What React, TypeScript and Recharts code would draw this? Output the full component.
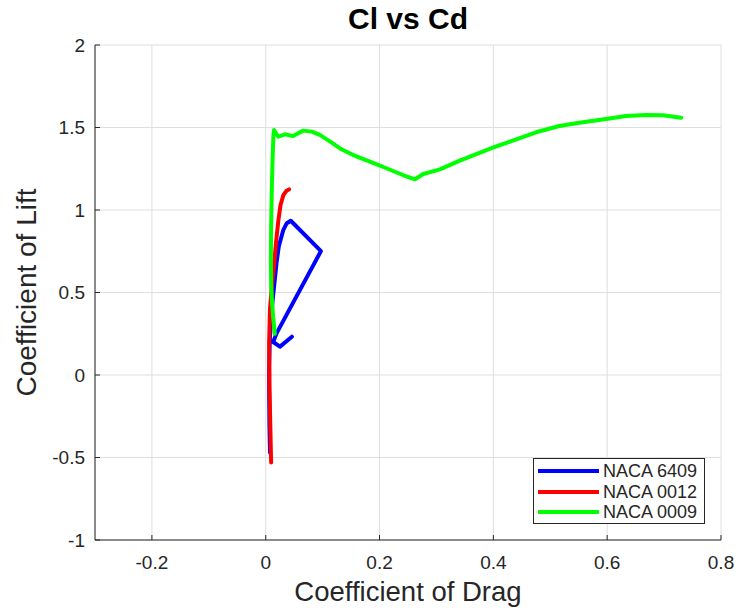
import React from 'react';
import { LineChart, Line, XAxis, YAxis, CartesianGrid, Legend } from 'recharts';

// ---- data ----
const naca6409Cd = [0.0075, 0.0065, 0.006, 0.006, 0.007, 0.009, 0.012, 0.016, 0.019, 0.023, 0.031, 0.037, 0.044, 0.097, 0.019, 0.013, 0.025, 0.046];
const naca6409Cl = [-0.47, -0.3, -0.1, 0.05, 0.2, 0.32, 0.45, 0.58, 0.68, 0.78, 0.88, 0.92, 0.935, 0.751, 0.252, 0.2, 0.172, 0.232];

const naca0012Cd = [0.0095, 0.008, 0.0065, 0.006, 0.0075, 0.011, 0.015, 0.018, 0.022, 0.026, 0.031, 0.036, 0.041];
const naca0012Cl = [-0.53, -0.3, -0.05, 0.2, 0.4, 0.55, 0.68, 0.8, 0.93, 1.03, 1.09, 1.115, 1.125];

const naca0009Cd = [0.016, 0.013, 0.011, 0.0095, 0.009, 0.0095, 0.0105, 0.012, 0.0135, 0.0146, 0.022, 0.034, 0.048, 0.066, 0.081, 0.095, 0.116, 0.133, 0.154, 0.183, 0.212, 0.241, 0.262, 0.277, 0.306, 0.341, 0.37, 0.399, 0.434, 0.475, 0.516, 0.551, 0.598, 0.633, 0.668, 0.698, 0.73];
const naca0009Cl = [0.25, 0.35, 0.45, 0.55, 0.7, 0.9, 1.1, 1.3, 1.45, 1.485, 1.444, 1.459, 1.448, 1.481, 1.475, 1.455, 1.408, 1.368, 1.333, 1.293, 1.253, 1.212, 1.186, 1.218, 1.246, 1.299, 1.339, 1.378, 1.42, 1.471, 1.509, 1.529, 1.551, 1.57, 1.576, 1.574, 1.559];

const xTicks = [-0.2, 0, 0.2, 0.4, 0.6, 0.8];
const yTicks = [-1, -0.5, 0, 0.5, 1, 1.5, 2];
const xDomain = [-0.3, 0.8];
const yDomain = [-1, 2];

const titleText = 'Cl vs Cd';
const xLabelText = 'Coefficient of Drag';
const yLabelText = 'Coefficient of Lift';
const seriesNames = ['NACA 6409', 'NACA 0012', 'NACA 0009'];
const seriesColors = ['#0000ff', '#ff0000', '#00ff00'];

const toPoints = (xs: number[], ys: number[]) => xs.map((x, i) => ({ cd: x, cl: ys[i] }));
const seriesData = [
  toPoints(naca6409Cd, naca6409Cl),
  toPoints(naca0012Cd, naca0012Cl),
  toPoints(naca0009Cd, naca0009Cl),
];

const FONT = '"Liberation Sans", Arial, Helvetica, sans-serif';
const AXIS_COLOR = '#262626';
const TICK_LEN = 5;
const X_TICK_MARGIN = 16;
const Y_TICK_MARGIN = 10;

const fmt = (v: number) => String(v);

const BottomTick = (props: any) => {
  const { x, y, payload } = props;
  const axisY = y - X_TICK_MARGIN;
  return (
    <g>
      <line x1={x} x2={x} y1={axisY} y2={axisY - TICK_LEN} stroke={AXIS_COLOR} strokeWidth={1} />
      <text x={x} y={y} dy="0.71em" textAnchor="middle" fill={AXIS_COLOR} fontSize={19} fontFamily={FONT}>
        {fmt(payload.value)}
      </text>
    </g>
  );
};

const LeftTick = (props: any) => {
  const { x, y, payload } = props;
  const axisX = x + Y_TICK_MARGIN;
  return (
    <g>
      <line x1={axisX} x2={axisX + TICK_LEN} y1={y} y2={y} stroke={AXIS_COLOR} strokeWidth={1} />
      <text x={x} y={y} dy="0.355em" textAnchor="end" fill={AXIS_COLOR} fontSize={19} fontFamily={FONT}>
        {fmt(payload.value)}
      </text>
    </g>
  );
};

const TopTick = (props: any) => {
  const { x, y } = props;
  return <line x1={x} x2={x} y1={y} y2={y + TICK_LEN} stroke={AXIS_COLOR} strokeWidth={1} />;
};

const RightTick = (props: any) => {
  const { x, y } = props;
  return <line x1={x} x2={x - TICK_LEN} y1={y} y2={y} stroke={AXIS_COLOR} strokeWidth={1} />;
};

const LegendBox = () => (
  <div
    style={{
      boxSizing: 'border-box',
      width: 172,
      height: 66,
      border: `1px solid ${AXIS_COLOR}`,
      background: '#ffffff',
      paddingTop: 2,
      paddingLeft: 4,
      fontFamily: FONT,
    }}
  >
    {seriesNames.map((name, i) => (
      <div key={name} style={{ display: 'flex', alignItems: 'center', height: 20.5 }}>
        <svg width={61} height={6} style={{ display: 'block' }}>
          <line x1={0} x2={61} y1={3} y2={3} stroke={seriesColors[i]} strokeWidth={4} />
        </svg>
        <span style={{ marginLeft: 4, fontSize: 18, color: AXIS_COLOR, lineHeight: '20px', whiteSpace: 'nowrap' }}>{name}</span>
      </div>
    ))}
  </div>
);

export default function App() {
  return (
    <div style={{ position: 'absolute', left: 0, top: 0, width: 739, height: 610, background: '#ffffff', fontFamily: FONT }}>
      <div
        style={{
          position: 'absolute',
          left: 95,
          width: 626,
          top: 2,
          textAlign: 'center',
          fontSize: 30,
          fontWeight: 'bold',
          color: '#000000',
          lineHeight: '34px',
          fontFamily: FONT,
        }}
      >
        {titleText}
      </div>
      <LineChart width={739} height={610} margin={{ top: 45, right: 18, bottom: 0, left: 0 }}>
        <CartesianGrid stroke="#dfdfdf" strokeWidth={1} />
        <XAxis
          xAxisId={0}
          type="number"
          dataKey="cd"
          domain={xDomain}
          ticks={xTicks}
          interval={0}
          allowDataOverflow
          height={70}
          tickSize={0}
          tickMargin={X_TICK_MARGIN}
          tick={<BottomTick />}
          axisLine={{ stroke: AXIS_COLOR, strokeWidth: 1 }}
          label={{ value: xLabelText, position: 'insideBottom', offset: 9, fill: AXIS_COLOR, fontSize: 27.5, fontFamily: FONT }}
        />
        <XAxis
          xAxisId="top"
          orientation="top"
          type="number"
          dataKey="cd"
          domain={xDomain}
          ticks={xTicks}
          interval={0}
          allowDataOverflow
          height={0}
          tickSize={0}
          tickMargin={0}
          tick={<TopTick />}
          axisLine={{ stroke: AXIS_COLOR, strokeWidth: 1 }}
        />
        <YAxis
          yAxisId={0}
          type="number"
          dataKey="cl"
          domain={yDomain}
          ticks={yTicks}
          interval={0}
          allowDataOverflow
          width={95}
          tickSize={0}
          tickMargin={Y_TICK_MARGIN}
          tick={<LeftTick />}
          axisLine={{ stroke: AXIS_COLOR, strokeWidth: 1 }}
          label={{ value: yLabelText, angle: -90, position: 'insideLeft', offset: 26, fill: AXIS_COLOR, fontSize: 28, fontFamily: FONT, style: { textAnchor: 'middle' } }}
        />
        <YAxis
          yAxisId="right"
          orientation="right"
          type="number"
          dataKey="cl"
          domain={yDomain}
          ticks={yTicks}
          interval={0}
          allowDataOverflow
          width={0}
          tickSize={0}
          tickMargin={0}
          tick={<RightTick />}
          axisLine={{ stroke: AXIS_COLOR, strokeWidth: 1 }}
        />
        {seriesData.map((data, i) => (
          <Line
            key={seriesNames[i]}
            name={seriesNames[i]}
            data={data}
            dataKey="cl"
            xAxisId={0}
            yAxisId={0}
            type="linear"
            stroke={seriesColors[i]}
            strokeWidth={4}
            strokeLinejoin="round"
            strokeLinecap="round"
            dot={false}
            activeDot={false}
            isAnimationActive={false}
          />
        ))}
        <Legend
          layout="horizontal"
          align="center"
          verticalAlign="middle"
          content={<LegendBox />}
          wrapperStyle={{ position: 'absolute', left: 533, top: 458, width: 172, height: 66 }}
        />
      </LineChart>
    </div>
  );
}
